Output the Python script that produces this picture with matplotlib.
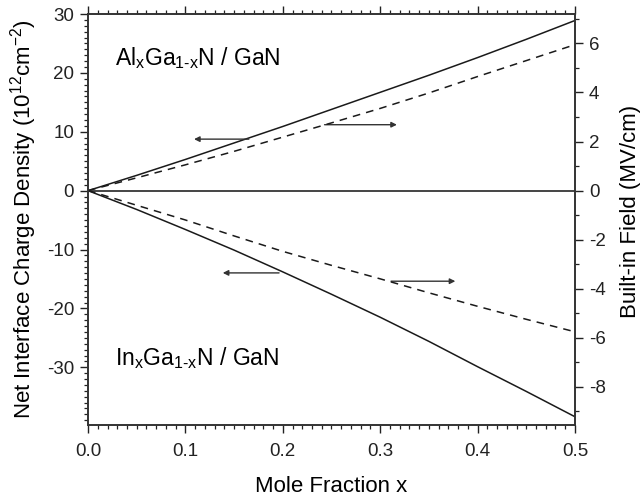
import numpy as np
import matplotlib
matplotlib.use('Agg')
import matplotlib.pyplot as plt
from matplotlib.ticker import MultipleLocator

plt.rcParams['font.family'] = ['Liberation Sans', 'DejaVu Sans']
plt.rcParams['mathtext.fontset'] = 'custom'
plt.rcParams['mathtext.rm'] = 'Liberation Sans'
plt.rcParams['mathtext.it'] = 'Liberation Sans'
plt.rcParams['mathtext.bf'] = 'Liberation Sans'
plt.rcParams['axes.unicode_minus'] = False

# mole fraction
x = [0.0, 0.05, 0.1, 0.15, 0.2, 0.25, 0.3, 0.35, 0.4, 0.45, 0.5]
# AlGaN/GaN: charge density (left axis) and field (right axis)
al_charge = [0.0, 2.6, 5.3, 8.1, 10.9, 13.8, 16.7, 19.6, 22.6, 25.7, 28.9]
al_field = [0.0, 0.52, 1.05, 1.6, 2.18, 2.76, 3.35, 3.98, 4.65, 5.3, 5.95]
# InGaN/GaN
in_charge = [0.0, -3.2, -6.6, -10.1, -13.8, -17.6, -21.5, -25.6, -29.9, -34.1, -38.4]
in_field = [0.0, -0.6, -1.2, -1.85, -2.48, -3.05, -3.6, -4.17, -4.72, -5.25, -5.76]

line_col = '#1a1a1a'

fig = plt.figure(figsize=(6.43, 4.97), dpi=100)
ax = fig.add_axes([0.1369, 0.1449, 0.7573, 0.8269])
ax2 = ax.twinx()

ax.plot(x, al_charge, color=line_col, lw=1.1)
ax.plot(x, in_charge, color=line_col, lw=1.1)
ax2.plot(x, al_field, color=line_col, lw=1.1, ls=(0, (5, 4)))
ax2.plot(x, in_field, color=line_col, lw=1.1, ls=(0, (5, 4)))
ax.axhline(0, color='#444444', lw=1.4)

ax.set_xlim(0, 0.5)
ax.set_ylim(-39.8, 30)
ax2.set_ylim(-9.56, 7.2)

ax.set_xticks([0.0, 0.1, 0.2, 0.3, 0.4, 0.5])
ax.set_xticklabels(['0.0', '0.1', '0.2', '0.3', '0.4', '0.5'])
ax.xaxis.set_minor_locator(MultipleLocator(0.01))
ax.set_yticks([-30, -20, -10, 0, 10, 20, 30])
ax.yaxis.set_minor_locator(MultipleLocator(1))
ax2.set_yticks([-8, -6, -4, -2, 0, 2, 4, 6])
ax2.yaxis.set_minor_locator(MultipleLocator(1))

ax.tick_params(axis='x', which='both', top=True, direction='out', labelsize=13.5, colors='#222222', pad=7)
ax.tick_params(axis='y', which='both', direction='out', labelsize=13.5, colors='#222222', pad=4)
ax.tick_params(which='major', length=6, width=1)
ax.tick_params(which='minor', length=3, width=0.9)
ax2.tick_params(which='both', direction='out', labelsize=13.5, colors='#222222', pad=4)
ax2.tick_params(which='major', length=6, width=1)
ax2.tick_params(which='minor', length=3, width=0.9)

for a in (ax, ax2):
    for s in a.spines.values():
        s.set_linewidth(1.2)
        s.set_color('#333333')

ax.set_xlabel('Mole Fraction x', fontsize=16)
ax.set_ylabel('Net Interface Charge Density (10$^{12}$cm$^{-2}$)', fontsize=16)
ax2.set_ylabel('Built-in Field (MV/cm)', fontsize=16)
ax.xaxis.set_label_coords(0.5, -0.124)
ax.yaxis.set_label_coords(-0.1, 0.5)
ax2.yaxis.set_label_coords(1.092, 0.52)

ax.text(0.0277, 21.4, 'Al$_{x}$Ga$_{1\u2010x}$N / GaN', fontsize=16.5, va='baseline', ha='left')
ax.text(0.0277, -29.7, 'In$_{x}$Ga$_{1\u2010x}$N / GaN', fontsize=16.5, va='baseline', ha='left')

arrow = dict(arrowstyle='-|>', color='#333333', lw=1.0, mutation_scale=8)
ax.annotate('', xy=(0.106, 8.75), xytext=(0.168, 8.75), arrowprops=arrow)
ax.annotate('', xy=(0.320, 11.2), xytext=(0.240, 11.2), arrowprops=arrow)
ax.annotate('', xy=(0.1355, -13.97), xytext=(0.199, -13.97), arrowprops=arrow)
ax.annotate('', xy=(0.380, -15.38), xytext=(0.3083, -15.38), arrowprops=arrow)

fig.savefig('out.png', dpi=100)
